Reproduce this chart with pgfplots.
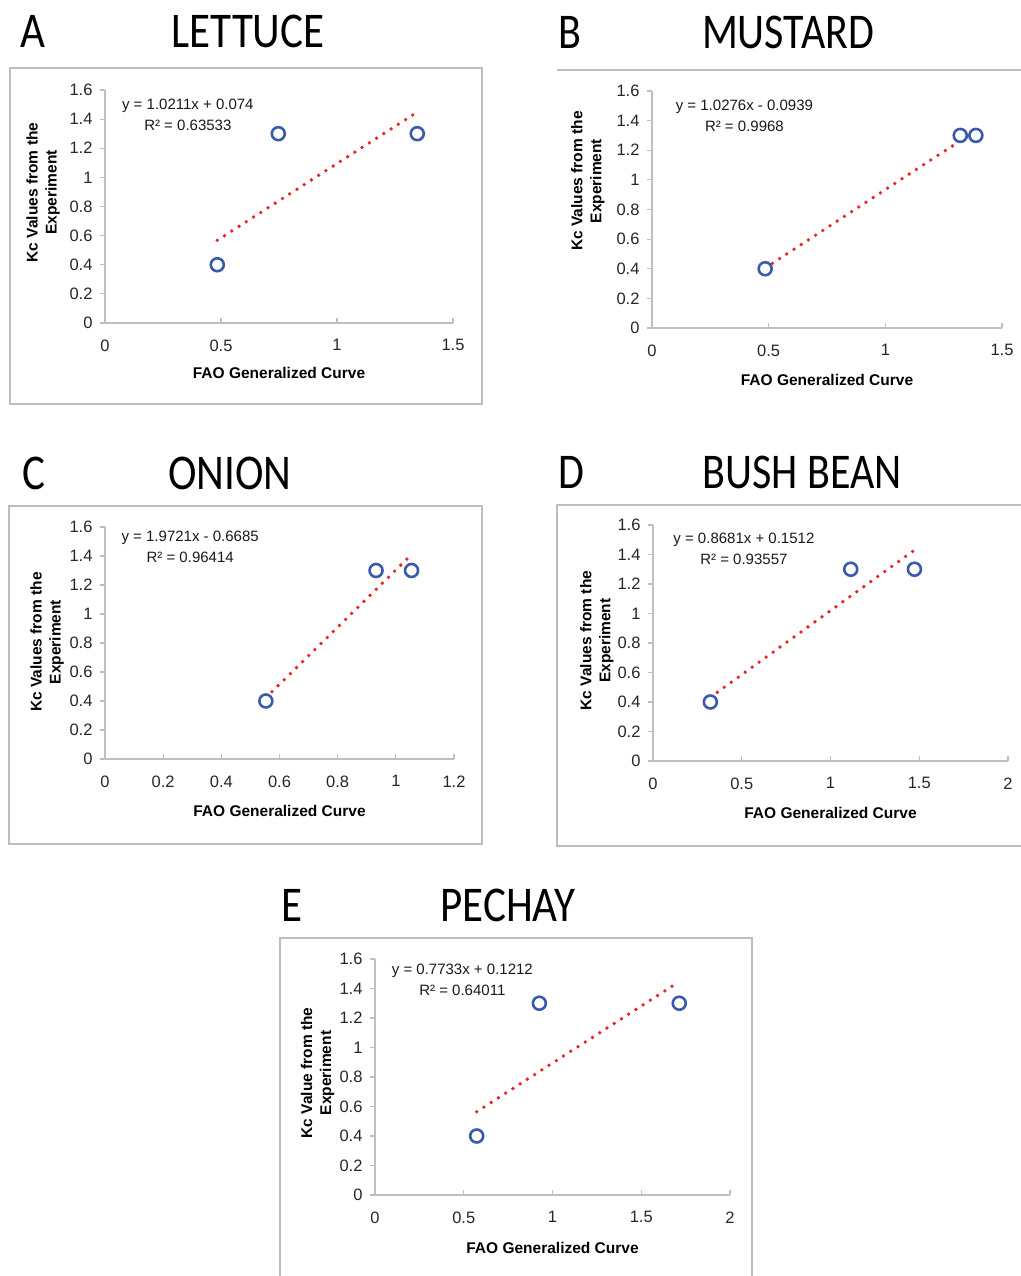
\documentclass[border=0pt]{standalone}
\usepackage{fontspec}
\setmainfont{Liberation Sans}
\newfontfamily\titlefont{Carlito}
\usepackage{pgfplots}
\pgfplotsset{compat=1.18}
\definecolor{framegray}{HTML}{BDBDBD}
\definecolor{axgray}{HTML}{BFBFBF}
\definecolor{tickgray}{HTML}{262626}
\definecolor{mblue}{HTML}{3B5BAA}
\definecolor{tred}{HTML}{E8252B}
\tikzset{eq/.style={align=center, font=\fontsize{15}{21}\selectfont, text=black!90, inner sep=0pt}}
\pgfplotsset{
  panel/.style={
    scale only axis,
    axis lines*=left,
    axis line style={axgray, line width=1.2pt, -},
    ymin=0, ymax=1.6, xmin=0,
    ytick={0,0.2,0.4,0.6,0.8,1,1.2,1.4,1.6},
    major tick length=5pt,
    tick align=outside,
    tick style={axgray, line width=1.2pt},
    x tick style={yshift=5pt},
    ticklabel style={font=\fontsize{16.5}{16.5}\selectfont, text=tickgray},
    xticklabel style={yshift=-8pt},
    yticklabel style={xshift=-4pt},
    /pgf/number format/assume math mode=true,
    clip=false,
  },
  ylab/.style 2 args={every axis y label/.style={at={(axis description cs:#1,#2)}, rotate=90, anchor=center, align=center, font=\bfseries\fontsize{15.5}{19}\selectfont}},
  xlab/.style={every axis x label/.style={at={(axis description cs:0.5,#1)}, anchor=center, font=\bfseries\fontsize{15.5}{16}\selectfont}},
  pts/.style={only marks, mark=*, mark size=6.5pt, mark options={draw=mblue, fill=white, line width=2.6pt}},
  trend/.style={no marks, tred, line width=3.8pt, line cap=round, dash pattern=on 0pt off 8.6pt},
}
\begin{document}
\begin{tikzpicture}
\path[use as bounding box] (0pt,0pt) rectangle (1020pt,1276pt);
% frames
\draw[framegray, line width=1.5pt] (10pt,872pt) rectangle (482pt,1208pt);
\draw[framegray, line width=1.5pt] (557pt,1206pt) -- (1022pt,1206pt);
\draw[framegray, line width=1.5pt] (9pt,432pt) rectangle (482pt,770pt);
\draw[framegray, line width=1.5pt] (1022pt,430pt) -- (557pt,430pt) -- (557pt,771pt) -- (1022pt,771pt);
\draw[framegray, line width=1.5pt] (280pt,-2pt) -- (280pt,338pt) -- (752pt,338pt) -- (752pt,-2pt);
% titles
\node[inner sep=0pt, font=\titlefont\fontsize{50}{50}\selectfont] at (33pt,1245pt) {\scalebox{0.86}[1]{A}};
\node[inner sep=0pt, font=\titlefont\fontsize{50}{50}\selectfont] at (248pt,1245pt) {\scalebox{0.86}[1]{LETTUCE}};
\node[inner sep=0pt, font=\titlefont\fontsize{50}{50}\selectfont] at (570pt,1244pt) {\scalebox{0.84}[1]{B}};
\node[inner sep=0pt, font=\titlefont\fontsize{50}{50}\selectfont] at (788pt,1244pt) {\scalebox{0.84}[1]{MUSTARD}};
\node[inner sep=0pt, font=\titlefont\fontsize{50}{50}\selectfont] at (33.5pt,802.5pt) {\scalebox{0.86}[1]{C}};
\node[inner sep=0pt, font=\titlefont\fontsize{50}{50}\selectfont] at (230pt,802.5pt) {\scalebox{0.86}[1]{ONION}};
\node[inner sep=0pt, font=\titlefont\fontsize{50}{50}\selectfont] at (571pt,804pt) {\scalebox{0.84}[1]{D}};
\node[inner sep=0pt, font=\titlefont\fontsize{50}{50}\selectfont] at (802pt,804pt) {\scalebox{0.84}[1]{BUSH BEAN}};
\node[inner sep=0pt, font=\titlefont\fontsize{50}{50}\selectfont] at (292pt,371pt) {\scalebox{0.86}[1]{E}};
\node[inner sep=0pt, font=\titlefont\fontsize{50}{50}\selectfont] at (508pt,371pt) {\scalebox{0.86}[1]{PECHAY}};

% A: LETTUCE
\begin{axis}[panel, at={(105pt,953pt)}, anchor=south west, width=348pt, height=233pt,
  xmax=1.5, xtick={0,0.5,1,1.5},
  ylab={-0.178}{0.56}, xlab={-0.215},
  xlabel={FAO Generalized Curve}, ylabel={Kc Values from the\\Experiment}]
\addplot[pts] coordinates {(0.484,0.4) (0.747,1.3) (1.346,1.3)};
\addplot[trend] coordinates {(0.484,0.568) (1.346,1.448)};
\node[eq] at (rel axis cs:0.238,0.895) {y = 1.0211x + 0.074\\R² = 0.63533};
\end{axis}

% B: MUSTARD
\begin{axis}[panel, at={(652pt,948pt)}, anchor=south west, width=350pt, height=237pt,
  xmax=1.5, xtick={0,0.5,1,1.5},
  ylab={-0.183}{0.62}, xlab={-0.219},
  xlabel={FAO Generalized Curve}, ylabel={Kc Values from the\\Experiment}]
\addplot[pts] coordinates {(0.485,0.4) (1.321,1.3) (1.388,1.3)};
\addplot[trend] coordinates {(0.485,0.4045) (1.388,1.3324)};
\node[eq] at (rel axis cs:0.264,0.895) {y = 1.0276x - 0.0939\\R² = 0.9968};
\end{axis}

% C: ONION
\begin{axis}[panel, at={(105pt,517pt)}, anchor=south west, width=349pt, height=232pt,
  xmax=1.2, xtick={0,0.2,0.4,0.6,0.8,1,1.2},
  ylab={-0.166}{0.504}, xlab={-0.224},
  xlabel={FAO Generalized Curve}, ylabel={Kc Values from the\\Experiment}]
\addplot[pts] coordinates {(0.553,0.4) (0.932,1.3) (1.054,1.3)};
\addplot[trend] coordinates {(0.553,0.4221) (1.054,1.4101)};
\node[eq] at (rel axis cs:0.244,0.914) {y = 1.9721x - 0.6685\\R² = 0.96414};
\end{axis}

% D: BUSH BEAN
\begin{axis}[panel, at={(653pt,515pt)}, anchor=south west, width=355pt, height=236pt,
  xmax=2, xtick={0,0.5,1,1.5,2},
  ylab={-0.158}{0.51}, xlab={-0.22},
  xlabel={FAO Generalized Curve}, ylabel={Kc Values from the\\Experiment}]
\addplot[pts] coordinates {(0.323,0.4) (1.114,1.3) (1.473,1.3)};
\addplot[trend] coordinates {(0.323,0.4316) (1.473,1.4299)};
\node[eq] at (rel axis cs:0.256,0.90) {y = 0.8681x + 0.1512\\R² = 0.93557};
\end{axis}

% E: PECHAY
\begin{axis}[panel, at={(375pt,81pt)}, anchor=south west, width=355pt, height=236pt,
  xmax=2, xtick={0,0.5,1,1.5,2},
  ylab={-0.162}{0.517}, xlab={-0.225},
  xlabel={FAO Generalized Curve}, ylabel={Kc Value from the\\Experiment}]
\addplot[pts] coordinates {(0.573,0.4) (0.926,1.3) (1.714,1.3)};
\addplot[trend] coordinates {(0.573,0.5643) (1.714,1.4466)};
\node[eq] at (rel axis cs:0.246,0.913) {y = 0.7733x + 0.1212\\R² = 0.64011};
\end{axis}
\end{tikzpicture}
\end{document}
